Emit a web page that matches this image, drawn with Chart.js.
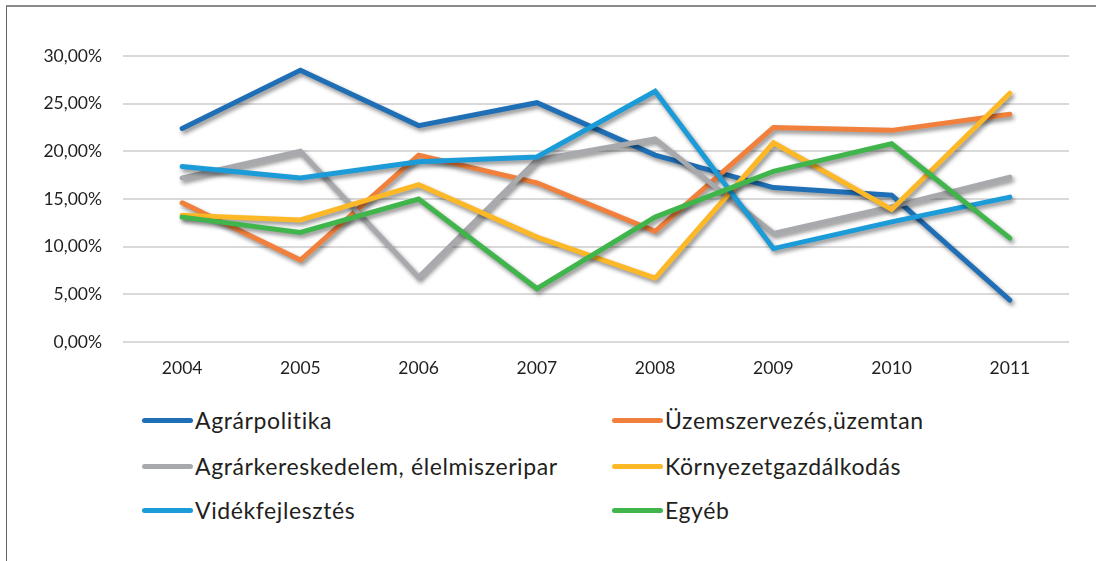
<!DOCTYPE html>
<html>
<head>
<meta charset="utf-8">
<script src="https://cdn.jsdelivr.net/npm/chart.js"></script>
<style>
  html, body { margin: 0; padding: 0; background: #fff; }
  body { width: 1096px; height: 561px; position: relative; overflow: hidden; font-family: Lato, "Open Sans", sans-serif; }
  #frame { position: absolute; left: 6px; top: 5px; width: 1200px; height: 700px; border-left: 1.5px solid #666; border-top: 2px solid #8a8a8a; }
  #wrap { position: absolute; left: 0; top: 0; width: 1096px; height: 390px; }
  #legend { position: absolute; left: 0; top: 0; }
  .item { position: absolute; display: flex; align-items: center; font-size: 23px; letter-spacing: 0.6px; color: #231f20; white-space: nowrap; }
  .swatch { width: 51px; height: 5px; border-radius: 3px; margin-right: 2px; }
</style>
</head>
<body>
<div id="frame"></div>
<div id="wrap"><canvas id="chart"></canvas></div>
<div id="legend"></div>
<script>
// évek
const years = ['2004', '2005', '2006', '2007', '2008', '2009', '2010', '2011'];

// sorozatok (%)
const agrarpolitika   = [22.4, 28.5, 22.7, 25.1, 19.6, 16.2, 15.4, 4.4];
const uzemszervezes   = [14.6, 8.6, 19.6, 16.7, 11.6, 22.5, 22.2, 23.9];
const agrarkereskedelem = [17.2, 20.0, 6.8, 19.1, 21.3, 11.4, 14.2, 17.3];
const kornyezet       = [13.3, 12.8, 16.5, 11.0, 6.7, 20.9, 13.9, 26.1];
const videkfejlesztes = [18.4, 17.2, 18.9, 19.4, 26.3, 9.8, 12.6, 15.2];
const egyeb           = [13.1, 11.5, 15.0, 5.6, 13.1, 17.9, 20.8, 10.9];

const seriesNames = ['Agrárpolitika', 'Üzemszervezés,üzemtan', 'Agrárkereskedelem, élelmiszeripar',
                     'Környezetgazdálkodás', 'Vidékfejlesztés', 'Egyéb'];
const seriesData = [agrarpolitika, uzemszervezes, agrarkereskedelem, kornyezet, videkfejlesztes, egyeb];
const seriesColors = ['#1f6fb6', '#f0803c', '#a7a9ac', '#fdb827', '#1b9bd7', '#40b54b'];

const yTicks = [0, 5, 10, 15, 20, 25, 30];

// árnyék a vonalak alá
const shadowPlugin = {
  id: 'lineShadow',
  beforeDatasetDraw(chart) {
    const ctx = chart.ctx;
    ctx.save();
    ctx.shadowColor = 'rgba(0,0,0,0.45)';
    ctx.shadowBlur = 4;
    ctx.shadowOffsetX = 2;
    ctx.shadowOffsetY = 3;
  },
  afterDatasetDraw(chart) {
    chart.ctx.restore();
  }
};

const datasets = seriesNames.map((name, i) => ({
  label: name,
  data: seriesData[i],
  borderColor: seriesColors[i],
  backgroundColor: seriesColors[i],
  borderWidth: 5,
  pointRadius: 0,
  tension: 0,
  borderCapStyle: 'round',
  borderJoinStyle: 'miter',
  order: seriesNames.length - i
}));

const chart = new Chart(document.getElementById('chart'), {
  type: 'line',
  data: { labels: years, datasets: datasets },
  plugins: [shadowPlugin],
  options: {
    responsive: true,
    maintainAspectRatio: false,
    animation: false,
    layout: { padding: { top: 56, right: 27, left: 0, bottom: 0 } },
    plugins: { legend: { display: false }, tooltip: { enabled: false } },
    scales: {
      x: {
        offset: true,
        grid: { display: false, drawTicks: false },
        border: { display: false },
        ticks: { color: '#231f20', font: { family: 'Lato', size: 17.5 }, padding: 16, maxRotation: 0 },
        afterFit(s) { s.height = 48; }
      },
      y: {
        min: 0,
        max: 30,
        afterBuildTicks(s) { s.ticks = yTicks.map(v => ({ value: v })); },
        grid: { color: '#d9d9d9', lineWidth: 2, drawTicks: false },
        border: { display: false },
        ticks: {
          color: '#231f20',
          font: { family: 'Lato', size: 17.5 },
          padding: 21,
          callback: v => v.toFixed(2).replace('.', ',') + '%'
        },
        afterFit(s) { s.width = 123; }
      }
    }
  }
});

// jelmagyarázat két oszlopban
const legend = document.getElementById('legend');
const colX = [142, 612];
const rowY = [420, 466, 510];
seriesNames.forEach((name, i) => {
  const el = document.createElement('div');
  el.className = 'item';
  el.style.left = colX[i % 2] + 'px';
  el.style.top = (rowY[Math.floor(i / 2)] - 15) + 'px';
  el.style.height = '30px';
  el.innerHTML = '<span class="swatch" style="background:' + seriesColors[i] + '"></span><span>' + name + '</span>';
  legend.appendChild(el);
});
</script>
</body>
</html>
